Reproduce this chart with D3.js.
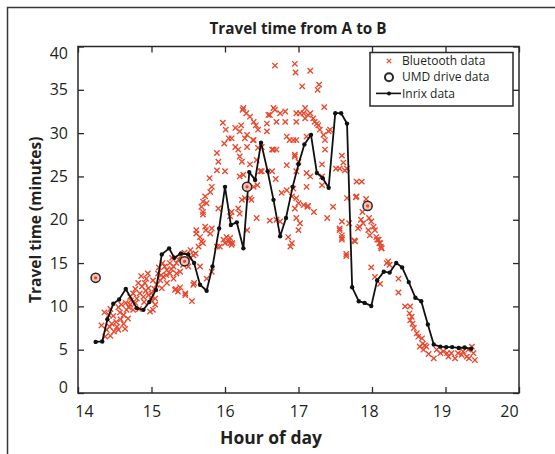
<!DOCTYPE html>
<html lang="en">
<head>
<meta charset="UTF-8">
<title>Travel time from A to B</title>
<style>
  body { margin: 0; background: #fff; }
  text { font-family: "Open Sans", "Noto Sans", sans-serif; fill: #231f20; }
</style>
</head>
<body>
<svg id="chart" width="555" height="454"></svg>
<script src="https://cdn.jsdelivr.net/npm/d3@7/dist/d3.min.js"></script>
<script>
// tick values
const xTicks = [14, 15, 16, 17, 18, 19, 20]
const yTicks = [0, 5, 10, 15, 20, 25, 30, 35, 40]

// Inrix data: [hour, minutes]
const inrix = [
  [14.24,5.9],[14.33,5.95],[14.40,8.5],[14.48,10.3],[14.56,10.8],[14.65,12.0],[14.80,9.8],[14.89,9.6],
  [14.97,10.5],[15.06,11.9],[15.14,16.0],[15.24,16.7],[15.31,15.6],[15.40,16.1],[15.50,16.0],[15.58,15.0],
  [15.66,12.5],[15.75,11.8],[15.83,14.6],[15.92,19.0],[16.0,23.8],[16.08,19.4],[16.16,19.7],[16.25,16.7],
  [16.33,25.5],[16.41,24.6],[16.49,28.9],[16.58,25.6],[16.66,22.3],[16.75,18.1],[16.83,20.2],[16.92,23.8],
  [17.0,26.4],[17.08,28.7],[17.17,29.8],[17.25,25.4],[17.33,24.8],[17.41,23.7],[17.50,32.3],[17.58,32.3],
  [17.66,31.1],[17.73,12.2],[17.82,10.6],[17.90,10.4],[17.99,10.05],[18.07,13.0],[18.16,14.0],[18.24,13.9],
  [18.33,15.0],[18.41,14.5],[18.50,12.8],[18.59,11.0],[18.67,10.6],[18.76,7.9],[18.84,5.6],[18.93,5.35],
  [19.01,5.3],[19.09,5.3],[19.18,5.2],[19.26,5.25],[19.35,5.1]
]

// UMD drive data
const umd = [[14.24,13.3],[15.45,15.2],[16.30,23.8],[17.94,21.6]]

// Bluetooth data
const bluetooth = [
  // 14.3 - 15.6
  [14.36,9.3],[14.44,9.7],[14.55,9.9],[14.48,8.9],[14.58,8.5],[14.43,7.65],[14.49,7.1],[14.64,7.4],
  [14.37,6.5],[14.44,6.6],[14.53,7.65],[14.39,7.3],[14.62,9.0],[14.68,8.6],[14.65,10.4],[14.71,10.2],
  [14.75,9.6],[14.80,10.9],[14.84,11.5],[14.87,12.3],[14.91,12.7],[14.96,12.1],[15.0,11.5],[14.89,11.1],
  [14.82,12.7],[14.93,13.2],[15.0,10.7],[15.05,10.2],[14.98,9.4],[15.02,9.6],[15.05,10.9],[15.07,12.5],
  [15.12,13.0],[15.09,13.8],[15.16,13.4],[15.21,14.2],[15.25,13.8],[15.30,14.6],[15.34,15.0],[15.39,14.0],
  [15.43,14.8],[15.48,15.2],[15.52,15.55],[15.57,15.9],[15.25,15.0],[15.18,14.6],[15.34,13.8],[15.30,13.2],
  [15.14,12.1],[15.21,12.7],[15.33,12.0],[15.36,11.7],[15.46,11.5],[15.39,12.2],[15.55,10.6],[15.58,12.7],
  [15.66,14.6],[15.64,16.9],[15.68,17.5],[15.61,18.4],[15.80,18.4],[15.82,14.0],[16.0,17.3],[16.02,18.0],
  [16.07,17.3],[14.96,11.3],[14.83,9.7],[14.71,11.1],[14.59,10.2],[14.66,9.6],[14.62,8.0],[14.55,7.3],
  [15.74,18.8],[15.70,17.3],[15.89,16.9],[15.98,17.7],[16.05,17.5],[16.09,17.1],[15.75,13.2],[15.57,12.5],
  [15.46,11.3],[15.32,11.9],[14.75,11.5],[14.78,12.0],[14.86,13.5],[14.95,13.8],[15.02,13.0],[15.1,14.5],
  [15.15,15.0],[15.28,15.6],[15.4,15.8],[15.45,16.2],[15.5,14.6],[15.2,13.6],[14.9,10.5],[14.72,10.7],
  [14.52,8.2],[14.46,8.0],[14.32,7.8],[14.42,9.0],[14.57,9.3],[14.69,9.9],[14.78,10.4],[14.92,11.8],
  [15.04,12.0],[15.13,13.6],[15.27,14.3],[15.37,15.4],[15.53,16.5],[15.6,16.1],
  // 15.6 - 16.9
  [15.97,31.2],[16.01,30.4],[16.05,29.4],[15.99,28.8],[16.14,30.6],[16.22,30.9],[16.24,32.7],[16.29,32.3],
  [16.34,31.9],[16.39,31.3],[16.42,30.9],[16.14,28.4],[16.18,28.1],[16.20,27.3],[16.09,29.4],[16.27,29.4],
  [16.38,29.2],[16.45,28.3],[16.57,30.2],[16.57,31.1],[16.61,32.1],[16.68,32.7],[16.75,32.3],[16.82,32.5],
  [16.82,31.3],[16.70,31.3],[16.84,29.6],[16.66,28.1],[16.70,28.1],[15.89,27.7],[15.91,26.7],[15.89,25.7],
  [16.0,25.6],[15.79,24.8],[15.82,23.8],[15.80,23.2],[15.73,22.7],[15.70,22.1],[15.68,21.5],[15.70,20.9],
  [15.75,21.9],[15.70,20.6],[15.91,21.3],[16.07,20.4],[16.09,20.9],[16.18,21.3],[16.20,20.7],[16.23,22.3],
  [16.27,22.5],[16.20,25.0],[16.25,25.2],[16.23,26.7],[16.34,26.4],[16.44,24.0],[16.36,22.3],[16.43,20.2],
  [16.61,19.9],[16.70,20.0],[16.50,25.6],[16.69,24.7],[16.77,23.1],[16.84,23.4],[16.07,17.9],[16.10,17.3],
  [15.93,16.9],[16.30,18.8],[15.61,18.8],[15.66,18.0],[15.73,19.2],[15.82,19.0],[16.30,29.8],[16.20,30.2],
  [16.25,32.9],[16.66,32.9],[16.59,32.1],[16.68,37.8],[16.45,30.4],[16.39,29.2],[16.30,28.4],[16.50,28.4],
  [16.64,28.1],[16.43,26.9],[16.84,26.3],[16.64,25.6],[16.48,25.6],[16.39,23.8],[16.75,19.8],[16.34,22.5],
  [16.86,18.0],[16.89,16.9],[16.88,29.2],
  // 16.9 - 17.9
  [16.95,38.0],[16.96,37.0],[17.16,37.2],[17.05,35.4],[17.26,35.0],[17.28,35.6],[17.35,33.0],[16.97,32.3],
  [17.09,32.9],[17.09,31.7],[17.16,32.3],[17.20,31.7],[17.22,31.3],[17.27,30.9],[17.29,30.4],[17.34,29.8],
  [17.36,29.2],[17.41,30.2],[17.43,30.4],[16.93,29.2],[16.95,27.5],[17.36,28.1],[17.32,26.4],[17.59,27.4],
  [17.61,26.6],[17.51,25.9],[17.56,25.9],[17.63,25.7],[17.16,25.0],[17.32,24.0],[16.95,21.3],[17.13,21.6],
  [17.21,20.9],[16.97,20.2],[17.02,19.6],[17.39,20.2],[17.47,21.5],[17.66,22.5],[17.56,18.8],[17.59,18.2],
  [17.59,17.7],[17.69,19.6],[17.77,17.5],[17.65,16.05],[16.91,17.3],[16.97,31.3],[17.07,32.3],[16.97,29.2],
  [16.95,27.3],[17.0,26.7],[16.97,25.6],[17.11,23.8],[17.11,25.4],[17.12,21.5],[17.07,21.7],[16.93,23.6],
  [16.97,22.5],[17.02,32.3],[17.13,32.1],[17.25,31.1],[17.11,29.6],[17.32,25.0],[16.91,22.7],[17.0,21.9],
  [17.0,18.8],[17.59,19.8],
  // 17.6 - 19.4
  [17.79,24.4],[17.86,24.4],[17.66,25.9],[17.78,22.6],[17.92,22.4],[17.87,20.9],[17.85,20.0],[17.81,19.0],
  [17.96,20.2],[17.99,19.8],[18.02,19.2],[18.04,18.8],[18.06,18.0],[18.09,17.7],[18.10,17.3],[18.12,16.9],
  [18.13,16.7],[17.56,19.0],[17.59,17.9],[17.76,17.6],[17.65,15.8],[17.99,14.5],[18.20,15.0],[18.24,14.8],
  [18.11,12.6],[18.36,13.2],[18.36,11.6],[18.45,10.0],[18.52,10.0],[18.51,9.2],[18.54,8.8],[18.52,8.4],
  [18.55,8.0],[18.57,7.5],[18.61,6.9],[18.63,6.5],[18.68,6.3],[18.69,5.7],[18.72,5.5],[18.70,5.0],
  [18.74,5.35],[18.65,5.35],[18.77,4.5],[18.84,4.0],[18.88,5.0],[18.93,4.6],[18.97,4.8],[19.02,4.6],
  [19.04,4.2],[19.08,4.6],[19.13,4.0],[19.17,4.6],[19.22,4.4],[19.24,4.8],[19.29,4.2],[19.32,4.0],
  [19.36,5.35],[19.38,4.6],[19.40,3.8],[19.31,5.0],[18.22,15.2],[18.04,13.4],[17.83,19.2],[17.88,19.6],
  [17.95,18.8],[17.97,18.2],[18.07,17.7],[18.11,17.3],[18.13,16.7],[17.79,22.7]
]

const svg = d3.select("#chart")

// plot box edges
const pLeft = 78, pRight = 519, pTop = 46.5, pBottom = 393

const x = d3.scaleLinear().domain([14, 20]).range([pLeft, pRight])
const y = d3.scaleLinear().domain([0, 40]).range([pBottom, pTop])

const ink = "#2b2728"
const red = "#e8472c"

// outer figure frame
svg.append("path")
   .attr("d", "M555,7.5H7.5V454")
   .attr("fill", "none")
   .attr("stroke", "#3a3637")
   .attr("stroke-width", 1.5)

// title
svg.append("text")
   .attr("x", 298).attr("y", 33.5)
   .attr("text-anchor", "middle")
   .attr("font-size", 15.3).attr("font-weight", "bold")
   .text("Travel time from A to B")

// axes
const xAxis = svg.append("g")
   .attr("transform", `translate(0,${pBottom})`)
   .call(d3.axisBottom(x).tickValues(xTicks).tickFormat(d3.format("d"))
           .tickSizeInner(-6).tickSizeOuter(0).tickPadding(13))
const xTop = svg.append("g")
   .attr("transform", `translate(0,${pTop})`)
   .call(d3.axisTop(x).tickValues(xTicks).tickFormat("")
           .tickSizeInner(-6).tickSizeOuter(0))
const yAxis = svg.append("g")
   .attr("transform", `translate(${pLeft},0)`)
   .call(d3.axisLeft(y).tickValues(yTicks).tickFormat(d3.format("d"))
           .tickSizeInner(-6).tickSizeOuter(0).tickPadding(10))
const yRight = svg.append("g")
   .attr("transform", `translate(${pRight},0)`)
   .call(d3.axisRight(y).tickValues(yTicks).tickFormat("")
           .tickSizeInner(-6).tickSizeOuter(0))

svg.selectAll(".domain").remove()
svg.selectAll(".tick line").attr("stroke", ink).attr("stroke-width", 1.3)
svg.selectAll(".tick text")
   .attr("font-size", 16)
   .attr("font-family", "\"Open Sans\", sans-serif")
   .attr("fill", ink)

// end labels nudged inside like the original
yAxis.selectAll(".tick text").filter(d => d === 40).attr("dy", "0.78em")
yAxis.selectAll(".tick text").filter(d => d === 0).attr("dy", "-0.06em")
const xShift = {14: 6, 18: -3, 19: -4, 20: -10}
xAxis.selectAll(".tick text").attr("dx", d => xShift[d] || 0)

// axis titles
svg.append("text")
   .attr("x", 271).attr("y", 444)
   .attr("text-anchor", "middle")
   .attr("font-size", 17.5).attr("font-weight", "bold")
   .text("Hour of day")

svg.append("text")
   .attr("transform", `translate(41,${(pTop + pBottom) / 2}) rotate(-90)`)
   .attr("text-anchor", "middle")
   .attr("font-size", 15.5).attr("font-weight", "bold")
   .text("Travel time (minutes)")

// bluetooth crosses
const s = 2.7
svg.append("g")
   .attr("class", "bluetooth")
   .selectAll("path")
   .data(bluetooth)
   .enter()
   .append("path")
   .attr("d", d => {
     let cx = x(d[0]), cy = y(d[1])
     return `M${cx - s},${cy - s}L${cx + s},${cy + s}M${cx - s},${cy + s}L${cx + s},${cy - s}`
   })
   .attr("stroke", red)
   .attr("stroke-width", 1.35)
   .attr("fill", "none")

// inrix line
const line = d3.line().x(d => x(d[0])).y(d => y(d[1]))
svg.append("path")
   .datum(inrix)
   .attr("d", line)
   .attr("fill", "none")
   .attr("stroke", "#111")
   .attr("stroke-width", 1.8)

svg.append("g")
   .selectAll("circle")
   .data(inrix)
   .enter()
   .append("circle")
   .attr("cx", d => x(d[0]))
   .attr("cy", d => y(d[1]))
   .attr("r", 2.2)
   .attr("fill", "#111")

// umd circles
let umdG = svg.append("g")
umdG.selectAll("circle.ring")
   .data(umd)
   .enter()
   .append("circle")
   .attr("class", "ring")
   .attr("cx", d => x(d[0]))
   .attr("cy", d => y(d[1]))
   .attr("r", 4.6)
   .attr("fill", "#f6c2b4")
   .attr("stroke", "#2b2728")
   .attr("stroke-width", 1.5)
umdG.selectAll("circle.dot")
   .data(umd)
   .enter()
   .append("circle")
   .attr("class", "dot")
   .attr("cx", d => x(d[0]))
   .attr("cy", d => y(d[1]))
   .attr("r", 1.6)
   .attr("fill", red)

// plot box
svg.append("rect")
   .attr("x", pLeft).attr("y", pTop)
   .attr("width", pRight - pLeft).attr("height", pBottom - pTop)
   .attr("fill", "none")
   .attr("stroke", ink)
   .attr("stroke-width", 1.5)

// legend
const legend = svg.append("g").attr("transform", "translate(370,52.5)")
legend.append("rect")
   .attr("width", 143).attr("height", 53.5)
   .attr("fill", "#fff")
   .attr("stroke", ink)
   .attr("stroke-width", 1.5)

const legendRows = ["Bluetooth data", "UMD drive data", "Inrix data"]
legend.selectAll("text")
   .data(legendRows)
   .enter()
   .append("text")
   .attr("x", 32)
   .attr("y", (d, i) => 8.5 + i * 16.2)
   .attr("dy", "0.35em")
   .attr("font-size", 12)
   .text(d => d)

legend.append("path")
   .attr("d", `M${19 - 2.2},${8.5 - 2.2}L${19 + 2.2},${8.5 + 2.2}M${19 - 2.2},${8.5 + 2.2}L${19 + 2.2},${8.5 - 2.2}`)
   .attr("stroke", red).attr("stroke-width", 1.2)
legend.append("circle")
   .attr("cx", 19).attr("cy", 24.7).attr("r", 4)
   .attr("fill", "none").attr("stroke", ink).attr("stroke-width", 2)
legend.append("line")
   .attr("x1", 6).attr("x2", 31).attr("y1", 40.9).attr("y2", 40.9)
   .attr("stroke", "#111").attr("stroke-width", 1.6)
legend.append("circle")
   .attr("cx", 19).attr("cy", 40.9).attr("r", 2)
   .attr("fill", "#111")
</script>
</body>
</html>
